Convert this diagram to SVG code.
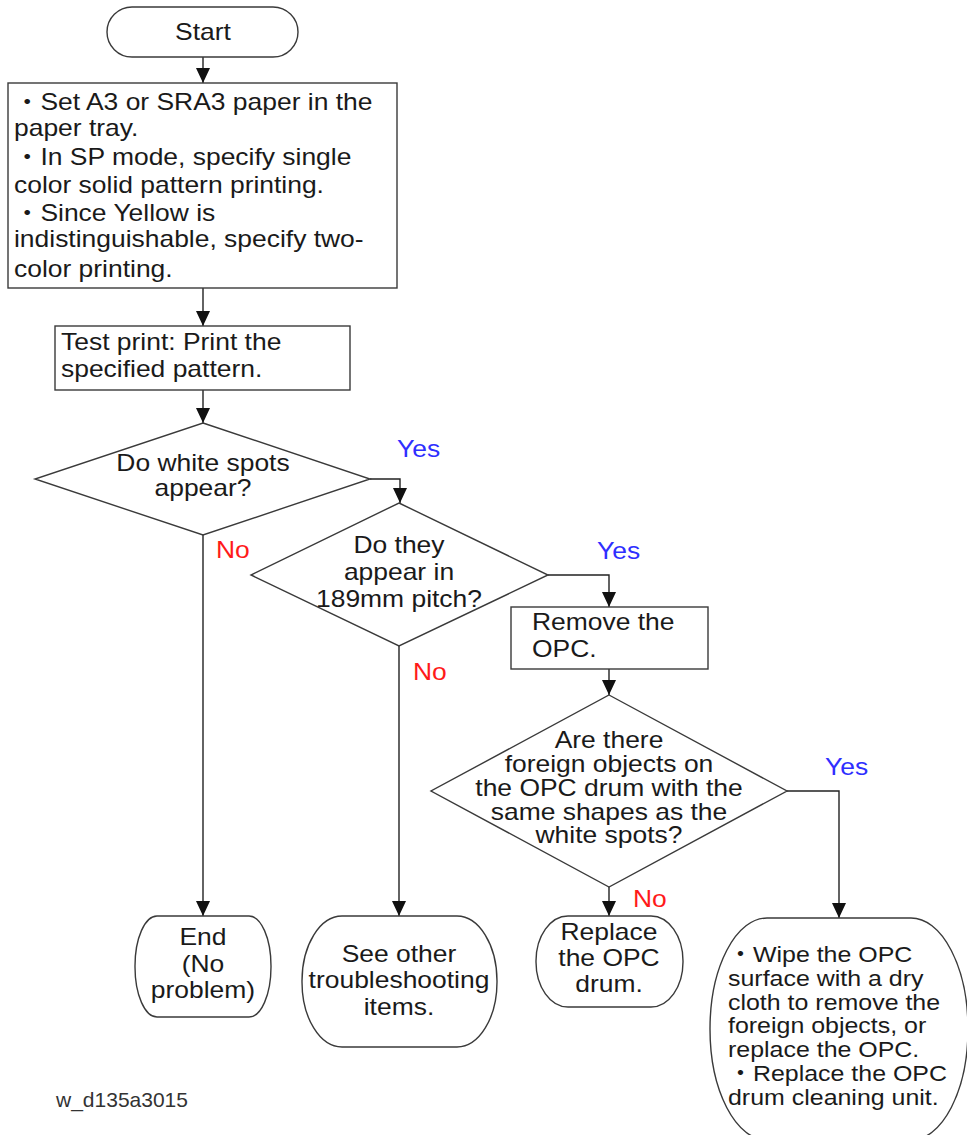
<svg xmlns="http://www.w3.org/2000/svg" width="967" height="1135" viewBox="0 0 967 1135">
  <style>
    .shape { fill: #ffffff; stroke: #3a3a3a; stroke-width: 1.4; }
    .wire { fill: none; stroke: #222222; stroke-width: 1.4; }
    .t { font-family: "Liberation Sans", "Noto Sans CJK JP", sans-serif; font-size: 23px; fill: #1a1a1a; }
    .c { text-anchor: middle; }
    .yes { font-family: "Liberation Sans", sans-serif; font-size: 23px; fill: #2f2fff; }
    .no { font-family: "Liberation Sans", sans-serif; font-size: 23px; fill: #ff1a1a; }
    .ref { font-family: "Liberation Sans", sans-serif; font-size: 21px; fill: #333333; }
  </style>
  <defs>
    <marker id="arrow" markerUnits="userSpaceOnUse" markerWidth="15" markerHeight="14" refX="15" refY="7" orient="auto">
      <path d="M0,0 L15,7 L0,14 Z" fill="#111111"/>
    </marker>
  </defs>

  <rect width="967" height="1135" fill="#ffffff"/>

  <!-- connectors -->
  <g id="connectors" class="wire" marker-end="url(#arrow)">
    <path d="M203,57 V83"/>
    <path d="M203,288 V326"/>
    <path d="M203,390 V423"/>
    <path d="M370,479 H400 V503"/>
    <path d="M203,535 V916"/>
    <path d="M548,575 H609 V607"/>
    <path d="M399,646 V916"/>
    <path d="M609,669 V695"/>
    <path d="M609,887 V916"/>
    <path d="M787,791 H839 V918"/>
  </g>

  <!-- branch labels (text widened 15% about its anchor) -->
  <g id="labels">
    <text class="yes" x="397" y="457" transform="matrix(1.15 0 0 1 -59.55 0)">Yes</text>
    <text class="no" x="216" y="558" transform="matrix(1.15 0 0 1 -32.4 0)">No</text>
    <text class="yes" x="597" y="559" transform="matrix(1.15 0 0 1 -89.55 0)">Yes</text>
    <text class="no" x="413" y="680" transform="matrix(1.15 0 0 1 -61.95 0)">No</text>
    <text class="yes" x="825" y="775" transform="matrix(1.15 0 0 1 -123.75 0)">Yes</text>
    <text class="no" x="633" y="907" transform="matrix(1.15 0 0 1 -94.95 0)">No</text>
  </g>

  <g id="start">
    <rect class="shape" x="107" y="7" width="191" height="50" rx="25" ry="25"/>
    <text class="t c" x="203" y="40" transform="matrix(1.15 0 0 1 -30.45 0)">Start</text>
  </g>

  <g id="setup">
    <rect class="shape" x="8" y="83" width="389" height="205"/>
    <g class="t" transform="matrix(1.15 0 0 1 -2.1 0)">
      <text x="14" y="110">・Set A3 or SRA3 paper in the</text>
      <text x="14" y="136">paper tray.</text>
      <text x="14" y="165">・In SP mode, specify single</text>
      <text x="14" y="193">color solid pattern printing.</text>
      <text x="14" y="221">・Since Yellow is</text>
      <text x="14" y="247">indistinguishable, specify two-</text>
      <text x="14" y="277">color printing.</text>
    </g>
  </g>

  <g id="test-print">
    <rect class="shape" x="55" y="326" width="295" height="64"/>
    <g class="t" transform="matrix(1.15 0 0 1 -9.15 0)">
      <text x="61" y="350">Test print: Print the</text>
      <text x="61" y="377">specified pattern.</text>
    </g>
  </g>

  <g id="white-spots">
    <polygon class="shape" points="203,423 370,479 203,535 35,479"/>
    <g class="t c" transform="matrix(1.15 0 0 1 -30.45 0)">
      <text x="203" y="471">Do white spots</text>
      <text x="203" y="496">appear?</text>
    </g>
  </g>

  <g id="pitch">
    <polygon class="shape" points="399,503 548,575 399,646 251,575"/>
    <g class="t c" transform="matrix(1.15 0 0 1 -59.85 0)">
      <text x="399" y="553">Do they</text>
      <text x="399" y="580">appear in</text>
      <text x="399" y="607">189mm pitch?</text>
    </g>
  </g>

  <g id="remove-opc">
    <rect class="shape" x="511" y="607" width="197" height="62"/>
    <g class="t" transform="matrix(1.15 0 0 1 -79.8 0)">
      <text x="532" y="630">Remove the</text>
      <text x="532" y="657">OPC.</text>
    </g>
  </g>

  <g id="foreign-objects">
    <polygon class="shape" points="609,695 787,791 609,887 431,791"/>
    <g class="t c" transform="matrix(1.15 0 0 1 -91.35 0)">
      <text x="609" y="748">Are there</text>
      <text x="609" y="772">foreign objects on</text>
      <text x="609" y="796">the OPC drum with the</text>
      <text x="609" y="820">same shapes as the</text>
      <text x="609" y="843">white spots?</text>
    </g>
  </g>

  <g id="end">
    <rect class="shape" x="135" y="916" width="136" height="101" rx="22" ry="50"/>
    <g class="t c" transform="matrix(1.15 0 0 1 -30.45 0)">
      <text x="203" y="945">End</text>
      <text x="203" y="972">(No</text>
      <text x="203" y="998">problem)</text>
    </g>
  </g>

  <g id="other-items">
    <rect class="shape" x="302" y="916" width="195" height="131" rx="40" ry="65"/>
    <g class="t c" transform="matrix(1.15 0 0 1 -59.85 0)">
      <text x="399" y="962">See other</text>
      <text x="399" y="988">troubleshooting</text>
      <text x="399" y="1015">items.</text>
    </g>
  </g>

  <g id="replace-drum">
    <rect class="shape" x="536" y="916" width="147" height="91" rx="32" ry="45"/>
    <g class="t c" transform="matrix(1.15 0 0 1 -91.35 0)">
      <text x="609" y="940">Replace</text>
      <text x="609" y="966">the OPC</text>
      <text x="609" y="992">drum.</text>
    </g>
  </g>

  <g id="wipe-opc">
    <rect class="shape" x="710" y="918" width="258" height="222" rx="57" ry="111"/>
    <g class="t" transform="matrix(1.085 0 0 1 -61.88 0)">
      <text x="728" y="962">・Wipe the OPC</text>
      <text x="728" y="986">surface with a dry</text>
      <text x="728" y="1010">cloth to remove the</text>
      <text x="728" y="1033">foreign objects, or</text>
      <text x="728" y="1057">replace the OPC.</text>
      <text x="728" y="1081">・Replace the OPC</text>
      <text x="728" y="1105">drum cleaning unit.</text>
    </g>
  </g>

  <text class="ref" x="56" y="1107">w_d135a3015</text>
</svg>
